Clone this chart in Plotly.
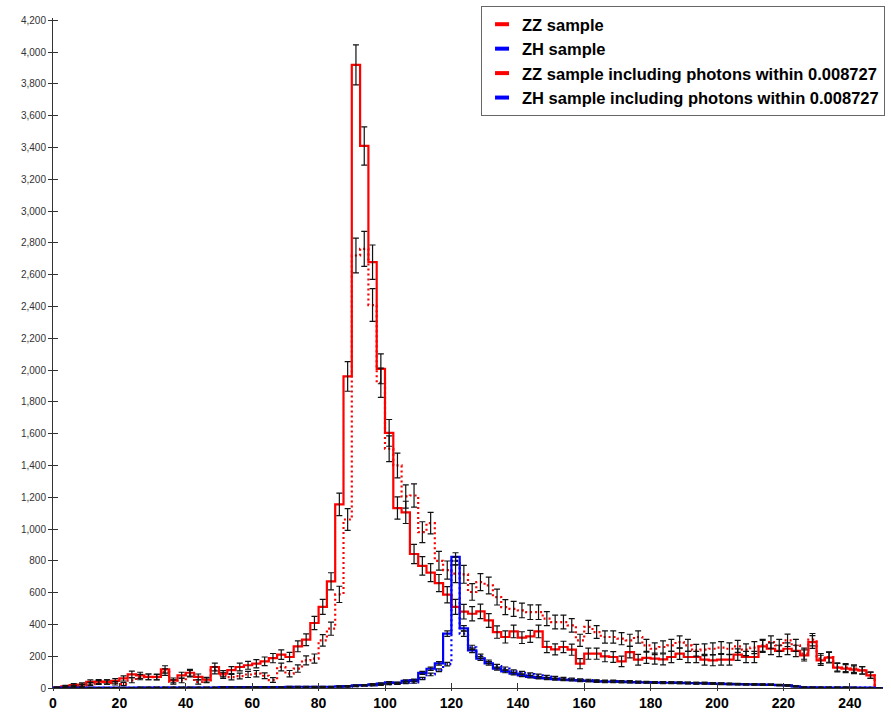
import plotly.graph_objects as go

# histogram binning: 100 bins of 2.5 between 0 and 250
bin_edges = [i * 2.5 for i in range(101)]
bin_centres = [(a + b) / 2 for a, b in zip(bin_edges[:-1], bin_edges[1:])]

# ZZ sample (no photons added back)
zz = [1, 5, 10, 15, 25, 35, 38, 30, 25, 48,
      69, 70, 68, 100, 38, 48, 90, 38, 48, 111,
      80, 68, 75, 85, 90, 77, 50, 132, 90, 122,
      174, 185, 300, 373, 589, 1060, 2721, 2763, 2409, 1920,
      1505, 1400, 1205, 1211, 980, 1037, 800, 742, 719, 715,
      604, 666, 645, 572, 509, 498, 488, 477, 477, 436,
      415, 415, 394, 300, 384, 352, 321, 321, 310, 300,
      321, 268, 247, 258, 268, 289, 268, 237, 241, 247,
      254, 247, 262, 241, 254, 268, 289, 268, 300, 268,
      216, 304, 185, 195, 132, 128, 122, 111, 80, 0]
zz_err = [2, 5, 7, 8, 10, 12, 13, 11, 10, 15,
          17, 18, 17, 21, 13, 15, 20, 13, 15, 22,
          19, 17, 18, 19, 20, 18, 15, 24, 20, 23,
          28, 29, 36, 41, 51, 68, 109, 110, 103, 92,
          81, 78, 73, 73, 66, 68, 59, 57, 56, 56,
          52, 54, 53, 50, 47, 47, 46, 46, 46, 44,
          43, 43, 42, 38, 41, 40, 39, 39, 38, 38,
          39, 38, 37, 38, 38, 39, 38, 37, 37, 37,
          38, 37, 38, 37, 38, 38, 39, 38, 39, 38,
          35, 39, 32, 33, 26, 25, 24, 23, 20, 0]

# ZZ sample including photons within 0.008727
zzg = [3, 10, 18, 22, 38, 40, 38, 45, 60, 86,
       80, 70, 70, 117, 48, 80, 96, 70, 52, 132,
       90, 113, 132, 143, 153, 168, 188, 210, 195, 262,
       304, 409, 510, 671, 1155, 1960, 3920, 3410, 2679, 2008,
       1605, 1132, 1105, 843, 768, 726, 660, 587, 510, 480,
       467, 482, 425, 352, 321, 356, 317, 325, 356, 258,
       243, 258, 241, 153, 216, 216, 199, 195, 168, 226,
       178, 190, 185, 180, 195, 216, 195, 195, 178, 174,
       178, 178, 210, 195, 195, 262, 247, 233, 247, 233,
       205, 289, 174, 191, 128, 122, 115, 111, 80, 0]
zzg_err = [4, 7, 9, 10, 13, 13, 13, 14, 16, 20,
           19, 18, 18, 23, 15, 19, 21, 18, 15, 24,
           20, 22, 24, 25, 26, 27, 29, 30, 29, 34,
           37, 42, 47, 54, 71, 93, 126, 120, 108, 94,
           84, 70, 70, 61, 58, 57, 54, 51, 47, 46,
           45, 46, 43, 39, 38, 40, 37, 38, 40, 36,
           35, 36, 35, 32, 35, 35, 34, 34, 33, 36,
           34, 35, 35, 34, 35, 36, 35, 35, 34, 34,
           34, 34, 36, 35, 35, 38, 37, 36, 37, 36,
           35, 40, 32, 33, 26, 25, 24, 24, 20, 0]

# ZH sample
zh = [1, 1, 1, 1, 1, 1, 1, 1, 1, 1,
      2, 2, 2, 2, 2, 2, 2, 2, 2, 2,
      4, 4, 4, 4, 4, 4, 4, 4, 6, 6,
      6, 6, 6, 6, 8, 9, 12, 14, 17, 20,
      25, 28, 33, 36, 60, 85, 112, 150, 800, 342,
      255, 200, 165, 138, 122, 105, 96, 87, 79, 72,
      66, 60, 56, 52, 49, 46, 44, 43, 41, 40,
      38, 37, 36, 35, 34, 33, 32, 31, 31, 29,
      27, 26, 25, 24, 23, 22, 21, 19, 17, 11,
      5, 4, 4, 3, 3, 3, 3, 2, 2, 0]

# ZH sample including photons within 0.008727
zhg = [2, 2, 2, 2, 2, 2, 2, 2, 2, 2,
       3, 3, 3, 3, 3, 3, 3, 3, 3, 3,
       5, 5, 5, 5, 5, 5, 5, 5, 8, 8,
       8, 8, 8, 8, 10, 12, 16, 18, 23, 27,
       36, 32, 45, 50, 95, 121, 155, 342, 825, 375,
       237, 185, 155, 122, 105, 90, 80, 70, 64, 60,
       56, 52, 50, 46, 44, 42, 40, 40, 38, 37,
       36, 35, 34, 33, 33, 32, 31, 30, 30, 28,
       26, 25, 24, 23, 22, 21, 20, 18, 16, 10,
       4, 4, 3, 3, 3, 3, 2, 2, 2, 0]

zh_err = [1, 1, 1, 1, 1, 1, 1, 1, 1, 1,
          1, 1, 1, 1, 1, 1, 1, 1, 1, 1,
          2, 2, 2, 2, 2, 2, 2, 2, 2, 2,
          2, 2, 2, 2, 3, 3, 3, 3, 4, 4,
          4, 5, 5, 5, 7, 8, 9, 11, 25, 17,
          14, 13, 11, 11, 10, 9, 9, 8, 8, 8,
          7, 7, 7, 6, 6, 6, 6, 6, 6, 6,
          6, 5, 5, 5, 5, 5, 5, 5, 5, 5,
          5, 5, 4, 4, 4, 4, 4, 4, 4, 3,
          2, 2, 2, 2, 2, 2, 2, 1, 1, 0]
zhg_err = [1, 1, 1, 1, 1, 1, 1, 1, 1, 1,
           2, 2, 2, 2, 2, 2, 2, 2, 2, 2,
           2, 2, 2, 2, 2, 2, 2, 2, 3, 3,
           3, 3, 3, 3, 3, 3, 4, 4, 4, 5,
           5, 5, 6, 6, 9, 10, 11, 17, 26, 17,
           14, 12, 11, 10, 9, 8, 8, 7, 7, 7,
           7, 6, 6, 6, 6, 6, 6, 6, 6, 5,
           5, 5, 5, 5, 5, 5, 5, 5, 5, 5,
           5, 4, 4, 4, 4, 4, 4, 4, 4, 3,
           2, 2, 2, 2, 2, 2, 1, 1, 1, 0]

names = ["ZZ sample", "ZH sample",
         "ZZ sample including photons within 0.008727",
         "ZH sample including photons within 0.008727"]

RED = "#ff0000"
BLUE = "#0000ff"

fig = go.Figure()

# (values, errors, colour, dotted?) - drawing order
series = [
    (zz, zz_err, RED, True),
    (zh, zh_err, BLUE, True),
    (zzg, zzg_err, RED, False),
    (zhg, zhg_err, BLUE, False),
]

for vals, errs, col, dotted in series:
    fig.add_trace(go.Scatter(
        x=bin_edges, y=vals + [vals[-1]],
        mode="lines", line_shape="hv",
        line=dict(color=col, width=2.2, dash="2px,3px" if dotted else "solid"),
        showlegend=False, hoverinfo="skip"))

# error bars on top of the step lines
for vals, errs, col, dotted in series:
    fig.add_trace(go.Scatter(
        x=bin_centres, y=vals, mode="markers",
        marker=dict(size=1, color="rgba(0,0,0,0)"),
        error_y=dict(type="data", array=errs, visible=True,
                     color="#111111", thickness=1.2, width=3),
        showlegend=False, hoverinfo="skip"))

# legend entries with short solid swatches
for nm, col in zip(names, [RED, BLUE, RED, BLUE]):
    fig.add_trace(go.Scatter(
        x=[None], y=[None], mode="markers", name="<b>" + nm + "</b>",
        marker=dict(symbol="line-ew", size=10, color=col,
                    line=dict(color=col, width=4))))

# second set of axes only to get ticks crossing the axis lines
fig.add_trace(go.Scatter(x=[None], y=[None], xaxis="x2", yaxis="y2",
                         showlegend=False, hoverinfo="skip"))

fig.update_layout(
    width=891, height=712,
    margin=dict(l=53, r=8, t=18, b=24, autoexpand=False),
    paper_bgcolor="white", plot_bgcolor="white",
    font=dict(family="Liberation Sans, Arial, sans-serif", color="black"),
    showlegend=True,
    legend=dict(xref="container", yref="container",
                x=0.9933, xanchor="right", y=0.9916, yanchor="top",
                bgcolor="white", bordercolor="#666666", borderwidth=1,
                font=dict(size=16.5, color="black"), tracegroupgap=0,
                itemwidth=30),
    xaxis=dict(range=[0, 250], tick0=0, dtick=20, showgrid=False, zeroline=False,
               showline=True, linecolor="#333333", linewidth=1, automargin=False,
               ticks="outside", ticklen=2, tickcolor="#333333",
               tickfont=dict(size=14, color="black", weight="bold")),
    yaxis=dict(range=[0, 4215], tick0=0, dtick=200, tickformat=",d",
               showgrid=False, zeroline=False, automargin=False,
               showline=True, linecolor="#333333", linewidth=1,
               ticks="outside", ticklen=4, tickcolor="#333333",
               tickfont=dict(size=10, color="#333333")),
    xaxis2=dict(overlaying="x", matches="x", anchor="y2", side="bottom",
                tick0=0, dtick=20, ticks="inside", ticklen=5, tickcolor="#333333",
                automargin=False,
                showticklabels=False, showgrid=False, zeroline=False, showline=False),
    yaxis2=dict(overlaying="y", matches="y", anchor="x2", side="left",
                tick0=0, dtick=200, ticks="inside", ticklen=5, tickcolor="#333333",
                automargin=False,
                showticklabels=False, showgrid=False, zeroline=False, showline=False),
)

# the page body has a default 8px margin; drop it so the figure fills the window
fig.write_html("out.html", config={"displayModeBar": False},
               post_script="document.body.style.margin = '0px';")
